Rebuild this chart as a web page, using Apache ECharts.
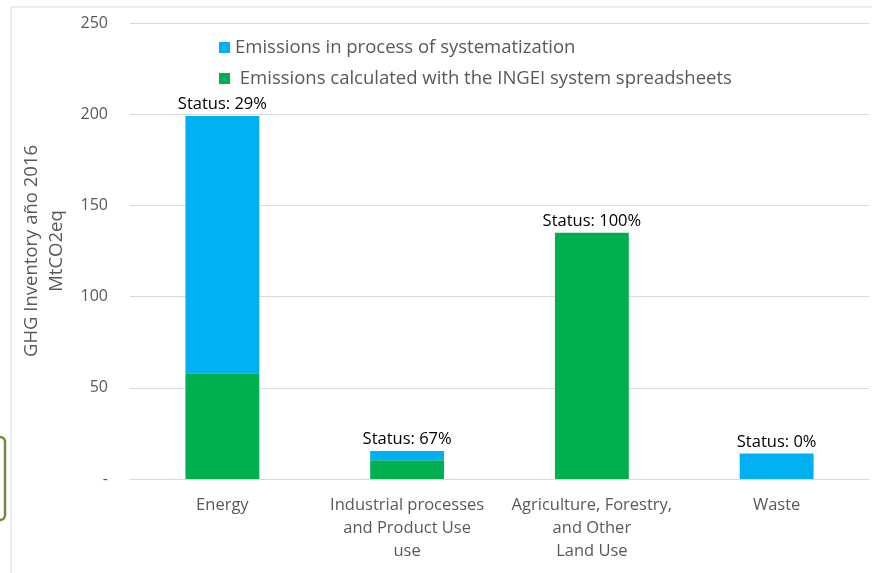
<!DOCTYPE html>
<html><head><meta charset="utf-8">
<script src="https://cdn.jsdelivr.net/npm/echarts@6/dist/echarts.min.js"></script>
<style>html,body{margin:0;padding:0;background:#fff}#c{width:872px;height:573px}</style>
</head><body><div id="c"></div>
<script>
const categories = ['Energy', 'Industrial processes\nand Product Use\nuse', 'Agriculture, Forestry,\nand Other\nLand Use', 'Waste'];
const calculated = [58, 10.3, 135, 0];
const inProcess = [141, 5, 0, 14];
const statusLabels = ['Status: 29%', 'Status: 67%', 'Status: 100%', 'Status: 0%'];
const yTicks = [0, 50, 100, 150, 200, 250];
const seriesNames = ['Emissions in process of systematization', ' Emissions calculated with the INGEI system spreadsheets'];
const FONT = 'Open Sans';
const chart = echarts.init(document.getElementById('c'));
chart.setOption({
  animation: false,
  textStyle: {fontFamily: FONT},
  graphic: [
    {type: 'rect', shape: {x: 11, y: 7, width: 900, height: 700}, style: {fill: 'none', stroke: '#d9d9d9', lineWidth: 1}, silent: true},
    {type: 'rect', shape: {x: -6, y: 437, width: 11, height: 83, r: 5}, style: {fill: '#fff', stroke: '#6f8a3a', lineWidth: 2.5}, silent: true}
  ],
  legend: {
    orient: 'vertical', left: 214, top: 33, itemGap: 12,
    itemWidth: 11, itemHeight: 11, icon: 'rect',
    data: seriesNames,
    textStyle: {fontSize: 18.5, color: '#595959', fontFamily: FONT}
  },
  grid: {left: 130, right: 3, top: 23, bottom: 94},
  xAxis: {
    type: 'category', data: categories,
    axisLine: {show: true, lineStyle: {color: '#d9d9d9'}},
    axisTick: {show: false},
    axisLabel: {fontSize: 16.5, color: '#595959', lineHeight: 23, margin: 15, interval: 0, fontFamily: FONT}
  },
  yAxis: {
    type: 'value', min: 0, max: 250, interval: 50,
    name: 'GHG Inventory año 2016\nMtCO2eq', nameLocation: 'middle', nameRotate: 90, nameGap: 55,
    nameTextStyle: {fontSize: 18.5, color: '#595959', lineHeight: 25, fontFamily: FONT},
    axisLine: {show: false}, axisTick: {show: false},
    splitLine: {lineStyle: {color: '#d9d9d9'}},
    axisLabel: {fontSize: 16, color: '#595959', margin: 22, fontFamily: FONT,
      formatter: v => yTicks.indexOf(v) === 0 ? '-' : String(v)}
  },
  series: [
    {name: seriesNames[1], type: 'bar', stack: 't', data: calculated, barWidth: '40%',
      itemStyle: {color: '#00b050'}},
    {name: seriesNames[0], type: 'bar', stack: 't', data: inProcess, barWidth: '40%',
      itemStyle: {color: '#00b0f0'},
      label: {show: true, position: 'top', distance: 3, fontSize: 16.5, color: '#000', fontFamily: FONT,
        formatter: p => statusLabels[p.dataIndex]}}
  ]
});
</script></body></html>
